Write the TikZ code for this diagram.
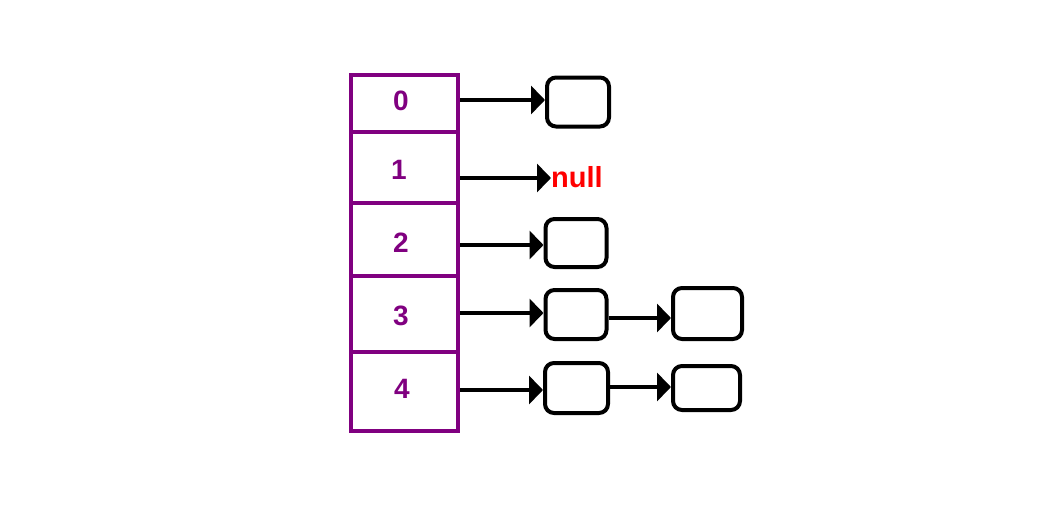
\documentclass[tikz,border=0pt]{standalone}
\usepackage{fontspec}
\setmainfont{Liberation Sans}
\usetikzlibrary{arrows.meta}
\definecolor{htmlpurple}{HTML}{800080}
\definecolor{nullred}{HTML}{FF0000}
\tikzset{
  cell/.style={draw=htmlpurple, line width=4pt, minimum width=107pt, inner sep=0pt,
    text=htmlpurple, font=\fontsize{28}{28}\selectfont\bfseries},
  lnode/.style={draw=black, line width=4pt, rounded corners=9pt, inner sep=0pt},
  arr/.style={line width=4pt, -{Triangle[length=14pt,width=28pt]}},
}
\begin{document}
\begin{tikzpicture}[x=1pt,y=-1pt]
\useasboundingbox (0,0) rectangle (1049,506);
% array cells
\node[cell, minimum height=57pt] (c0) at (404.5,103.5) {};
\node[cell, minimum height=71pt] (c1) at (404.5,167.5) {};
\node[cell, minimum height=73pt] (c2) at (404.5,239.5) {};
\node[cell, minimum height=76pt] (c3) at (404.5,314) {};
\node[cell, minimum height=79pt] (c4) at (404.5,391.5) {};
\node[cell, draw=none] (l0) at (401,101) {0};
\node[cell, draw=none] (l1) at (399,170) {1};
\node[cell, draw=none] (l2) at (401,243) {2};
\node[cell, draw=none] (l3) at (401,316) {3};
\node[cell, draw=none] (l4) at (402,389) {4};
% list nodes
\node[lnode, minimum width=62pt, minimum height=49pt] (b0) at (578,102) {};
\node[text=nullred, font=\fontsize{29}{29}\selectfont\bfseries, inner sep=0pt, anchor=west] (n1) at (551,177) {null};
\node[lnode, minimum width=61pt, minimum height=48pt] (b2) at (576,243) {};
\node[lnode, minimum width=61pt, minimum height=49pt] (b3) at (576,314.5) {};
\node[lnode, minimum width=69pt, minimum height=51pt] (b3b) at (707.5,313.5) {};
\node[lnode, minimum width=63pt, minimum height=50pt] (b4) at (576.5,388) {};
\node[lnode, minimum width=67pt, minimum height=44pt] (b4b) at (706.5,388) {};
% connectors
\draw[arr] (c0.east |- 0,100) coordinate (s0) -- (b0.west |- s0);
\draw[arr] (c1.east |- 0,178) coordinate (s1) -- (n1.west |- s1);
\draw[arr] (c2.east |- 0,245) coordinate (s2) -- (b2.west |- s2);
\draw[arr] (c3.east |- 0,313) coordinate (s3) -- (b3.west |- s3);
\draw[arr] (c4.east |- 0,390) coordinate (s4) -- (b4.west |- s4);
\draw[arr] (b3.east |- 0,318) coordinate (t3) -- (b3b.west |- t3);
\draw[arr] (b4.east |- 0,387) coordinate (t4) -- (b4b.west |- t4);
\end{tikzpicture}
\end{document}
